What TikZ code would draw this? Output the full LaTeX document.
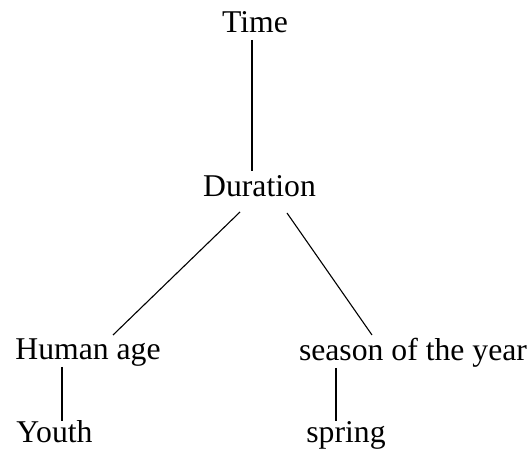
\documentclass[tikz,border=0pt]{standalone}
\usepackage{fontspec}
\setmainfont{Liberation Serif}
\usetikzlibrary{positioning,calc}
\definecolor{txt}{HTML}{000000}
\definecolor{lnB}{HTML}{000000}

\begin{document}
\begin{tikzpicture}[
  x=1pt,y=1pt,
  font=\fontsize{31.7}{38}\selectfont,text=txt,
  word/.style={inner sep=0pt,outer sep=0pt,text height=22pt,text depth=7pt,anchor=base},
  link/.style={draw=lnB,line width=1.1pt},
  ]
\useasboundingbox (0,0) rectangle (531,-449);

% ---- words ----
\node[word] (time) at (255,-33) {Time};
\node[word] (dur) at (259.5,-197) {Duration};
\node[word] (hum) at (88,-360) {Human age};
\node[word] (sea) at (413,-361) {season of the year};
\node[word] (youth) at (54.5,-443) {Youth};
\node[word] (spr) at (346,-443) {spring};

% ---- links ----
\draw[link,shorten >=4pt] ([xshift=-3pt]time.south) -- ([xshift=-3pt]time.south |- dur.north);
\draw[link] ([shift={(-19.5,-8)}]dur.south) -- ([shift={(25,3)}]hum.north);
\draw[link] ([shift={(27.5,-9)}]dur.south) -- ([shift={(-41,4)}]sea.north);
\draw[link] ([xshift=-26pt]hum.south) -- ([xshift=-26pt]hum.south |- youth.north);
\draw[link] ([xshift=-77pt]sea.south) -- ([xshift=-77pt]sea.south |- spr.north);

\end{tikzpicture}
\end{document}
